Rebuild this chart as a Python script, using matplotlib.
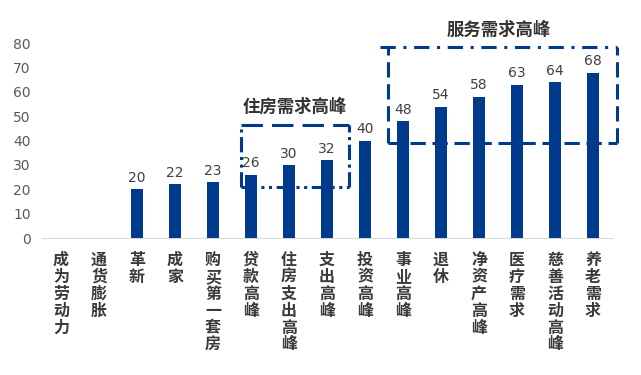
import matplotlib
matplotlib.use("Agg")
import matplotlib.pyplot as plt
import numpy as np

plt.rcParams["font.family"] = ["Noto Sans CJK SC", "DejaVu Sans"]

# ---- data ----
categories = ["成为劳动力", "通货膨胀", "革新", "成家", "购买第一套房", "贷款高峰",
              "住房支出高峰", "支出高峰", "投资高峰", "事业高峰", "退休",
              "净资产高峰", "医疗需求", "慈善活动高峰", "养老需求"]
values = [np.nan, np.nan, 20, 22, 23, 26, 30, 32, 40, 48, 54, 58, 63, 64, 68]
yticks = [0, 10, 20, 30, 40, 50, 60, 70, 80]

# group boxes: (x0, x1, y0, y1) in data coords, title
housing_box = (4.74, 7.58, 21.1, 46.4)
housing_title = "住房需求高峰"
service_box = (8.6, 14.63, 39.2, 78.6)
service_title = "服务需求高峰"

BAR = "#003A8C"
TXT = "#595959"

fig = plt.figure(figsize=(6.41, 3.75), dpi=100)
ax = fig.add_axes([0.0655, 0.3653, 0.8893, 0.5192])

x = np.arange(len(categories))
ax.bar(x, values, width=0.3, color=BAR, zorder=3)
for xi, v in zip(x, values):
    if not np.isnan(v):
        ax.text(xi, v + 1.8, f"{v:g}", ha="center", va="bottom",
                fontsize=10, color="#404040", family="DejaVu Sans")

ax.set_xlim(-0.5, len(categories) - 0.5)
ax.set_ylim(0, 80)
ax.set_yticks(yticks)
ax.set_yticklabels([str(t) for t in yticks], family="DejaVu Sans")
ax.tick_params(axis="y", length=0, pad=8, labelsize=10, colors=TXT)
ax.set_xticks(x)
ax.set_xticklabels(["\n".join(c) for c in categories], fontsize=11.5,
                   color="#3a3a3a", weight="bold", linespacing=1.07, va="top")
ax.tick_params(axis="x", length=0, pad=10)
for s in ["left", "right", "top"]:
    ax.spines[s].set_visible(False)
ax.spines["bottom"].set_color("#d9d9d9")
ax.spines["bottom"].set_linestyle((0, (1, 1)))

lw = 2.2
kw = dict(color=BAR, lw=lw, clip_on=False, zorder=4)
# housing box
x0, x1, y0, y1 = housing_box
ax.plot([x0, x1], [y1, y1], ls=(0, (7, 3)), **kw)
ax.plot([x0, x0], [y0, y1], ls=(0, (5, 1.5, 1, 1.5, 1, 1.5)), **kw)
ax.plot([x0, x1], [y0, y0], ls=(0, (5, 1.5, 1, 1.5, 1, 1.5)), **kw)
ax.plot([x1, x1], [y0, y1], ls=(0, (5, 1.5, 1, 1.5)), **kw)
ax.text((x0 + x1) / 2, y1 + 7.5, housing_title, ha="center", va="center",
        fontsize=12.5, weight="bold", color="#333333")
# service box
x0, x1, y0, y1 = service_box
ax.plot([x0 - 0.2, x1], [y1, y1], ls=(0, (5, 2.5, 1, 2.5)), **kw)
ax.plot([x0, x0], [y0, y1], ls=(0, (5, 2.2)), **kw)
ax.plot([x0, x1], [y0, y0], ls=(0, (5, 2.2)), **kw)
ax.plot([x1, x1], [y0, y1], ls=(0, (5, 2.2)), **kw)
ax.text((x0 + x1) / 2 - 0.1, y1 + 7, service_title, ha="center", va="center",
        fontsize=12.5, weight="bold", color="#333333")

fig.savefig("out.png", dpi=100)
